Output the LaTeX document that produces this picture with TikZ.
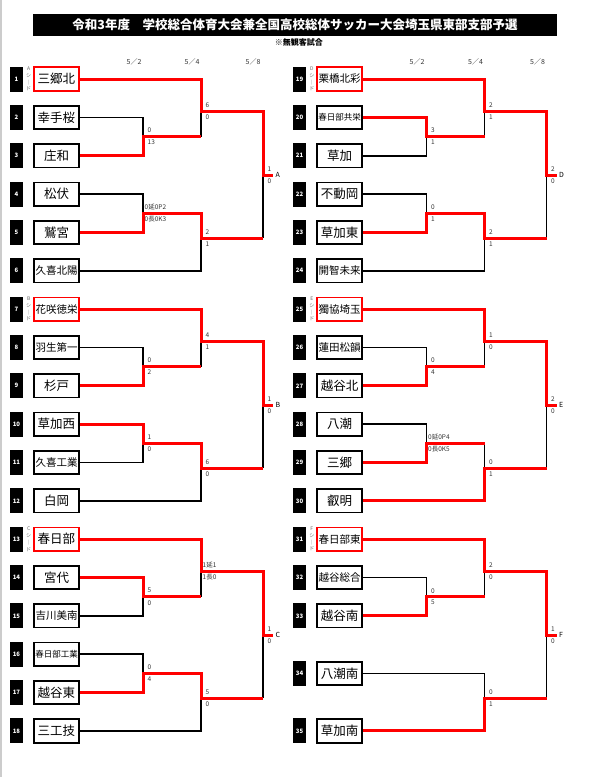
\documentclass[tikz,border=0pt]{standalone}
\usepackage{fontspec}
\setmainfont{Noto Sans CJK JP}
\usetikzlibrary{positioning}
\tikzset{
  titlebar/.style={fill=black,text=white,minimum width=524pt,minimum height=22pt,
    inner sep=0pt,font=\bfseries\fontsize{12.5}{14}\selectfont},
  subttl/.style={anchor=east,inner sep=0pt,font=\bfseries\fontsize{8}{9}\selectfont},
  date/.style={inner sep=0pt,text=black!80,font=\fontsize{7}{8}\selectfont},
  team/.style={draw=#1,line width=1.7pt,fill=white,minimum width=45.4pt,
    minimum height=23.4pt,inner sep=0pt},
  tsz/.style={font=\fontsize{#1}{#1}\selectfont},
  numbox/.style={fill=black,text=white,minimum width=12.5pt,minimum height=25pt,
    inner sep=0pt,font=\bfseries\fontsize{6}{7}\selectfont},
  seedmk/.style={align=center,inner sep=0pt,text=black!60,
    font=\fontsize{5}{6.7}\selectfont},
  win/.style={draw=red,line width=3pt},
  lose/.style={draw=black,line width=1.6pt},
  sc/.style={anchor=west,inner sep=0.5pt,text=black!80,font=\fontsize{6.5}{7}\selectfont},
  scu/.style={sc,xshift=4pt,yshift=6pt},
  scd/.style={sc,xshift=4pt,yshift=-6pt},
  scl/.style={xshift=-3pt},
  blk/.style={anchor=west,inner sep=1pt,xshift=1.5pt,font=\fontsize{7}{8}\selectfont},
}
\begin{document}
\begin{tikzpicture}[x=1pt,y=-1pt]
  \useasboundingbox (0,0) rectangle (597,777);
  \draw[black!20,line width=1.5pt] (0.75,0) -- (0.75,777);
  \node[titlebar] (title) at (295,25)
    {令和3年度　学校総合体育大会兼全国高校総体サッカー大会埼玉県東部支部予選};
  \node[subttl] (sub) at (323,42) {※無観客試合};
  \foreach \x/\dt [count=\k] in {134/5／2,192/5／4,253/5／8,417/5／2,475.5/5／4,537.5/5／8}
    \node[date] (dt\k) at (\x,62) {\dt};

  % teams
  \foreach \i/\nm/\fz/\bc in {1/三郷北/12.5/red,2/幸手桜/12.5/black,3/庄和/12.5/black,
      4/松伏/12.5/black,5/鷲宮/12.5/black,6/久喜北陽/10.5/black,7/花咲徳栄/10.5/red,
      8/羽生第一/10.5/black,9/杉戸/12.5/black,10/草加西/12.5/black,11/久喜工業/10.5/black,
      12/白岡/12.5/black,13/春日部/12.5/red,14/宮代/12.5/black,15/吉川美南/10.5/black,
      16/春日部工業/8.5/black,17/越谷東/12.5/black,18/三工技/12.5/black}{
    \node[team=\bc,tsz=\fz] (t\i) at (56.5,{79+(\i-1)*38.35}) {\nm};
    \node[numbox,left=10pt of t\i] (n\i) {\i};
  }
  \foreach \i/\r/\nm/\fz/\bc in {19/1/栗橋北彩/10.5/red,20/2/春日部共栄/8.5/black,
      21/3/草加/12.5/black,22/4/不動岡/12.5/black,23/5/草加東/12.5/black,
      24/6/開智未来/10.5/black,25/7/獨協埼玉/10.5/red,26/8/蓮田松韻/10.5/black,
      27/9/越谷北/12.5/black,28/10/八潮/12.5/black,29/11/三郷/12.5/black,
      30/12/叡明/12.5/black,31/13/春日部東/10.5/red,32/14/越谷総合/10.5/black,
      33/15/越谷南/12.5/black,34/16.5/八潮南/12.5/black,35/18/草加南/12.5/black}{
    \node[team=\bc,tsz=\fz] (t\i) at (339.5,{79+(\r-1)*38.35}) {\nm};
    \node[numbox,left=10pt of t\i] (n\i) {\i};
  }
  \foreach \i/\s in {1/A,7/B,13/C,19/D,25/E,31/F}
    \node[seedmk,left=1.5pt of t\i] (s\i) {\s\\シ\\｜\\ド};

  % match points
  \foreach \bk/\dx/\dy in {a/0/0,b/0/230.1,c/0/460.2,d/283.5/0,e/283.5/230.1,f/283.5/460.2}{
    \coordinate (\bk1) at (143+\dx,136.5+\dy);
    \coordinate (\bk2) at (201+\dx,111+\dy);
    \coordinate (\bk3) at (143+\dx,213.2+\dy);
    \coordinate (\bk4) at (201+\dx,238+\dy);
    \coordinate (\bk5) at (263+\dx,175+\dy);
    \coordinate (\bk w) at (273+\dx,175+\dy);
  }

  % block A
  \draw[lose] (t2.east) -| (a1);
  \draw[lose] (t4.east) -| (a3);
  \draw[lose] (t6.east) -| (a4);
  \draw[lose] (a1 -| a2) -- (a2);
  \draw[lose] (a4 -| a5) -- (a5);
  \draw[win] (t3.east) -| (a1) -- (a1 -| a2);
  \draw[win] (t5.east) -| (a3) -| (a4) -- (a4 -| a5);
  \draw[win] (t1.east) -| (a2) -| (a5) -- (aw);
  % block B
  \draw[lose] (t8.east) -| (b1);
  \draw[lose] (t11.east) -| (b3);
  \draw[lose] (t12.east) -| (b4);
  \draw[lose] (b1 -| b2) -- (b2);
  \draw[lose] (b4 -| b5) -- (b5);
  \draw[win] (t9.east) -| (b1) -- (b1 -| b2);
  \draw[win] (t10.east) -| (b3) -| (b4) -- (b4 -| b5);
  \draw[win] (t7.east) -| (b2) -| (b5) -- (bw);
  % block C
  \draw[lose] (t15.east) -| (c1);
  \draw[lose] (t16.east) -| (c3);
  \draw[lose] (t18.east) -| (c4);
  \draw[lose] (c1 -| c2) -- (c2);
  \draw[lose] (c4 -| c5) -- (c5);
  \draw[win] (t14.east) -| (c1) -- (c1 -| c2);
  \draw[win] (t17.east) -| (c3) -| (c4) -- (c4 -| c5);
  \draw[win] (t13.east) -| (c2) -| (c5) -- (cw);
  % block D
  \draw[lose] (t21.east) -| (d1);
  \draw[lose] (t22.east) -| (d3);
  \draw[lose] (t24.east) -| (d4);
  \draw[lose] (d1 -| d2) -- (d2);
  \draw[lose] (d4 -| d5) -- (d5);
  \draw[win] (t20.east) -| (d1) -- (d1 -| d2);
  \draw[win] (t23.east) -| (d3) -| (d4) -- (d4 -| d5);
  \draw[win] (t19.east) -| (d2) -| (d5) -- (dw);
  % block E
  \draw[lose] (t26.east) -| (e1);
  \draw[lose] (t28.east) -| (e3);
  \draw[lose] (e1 -| e2) -- (e2);
  \draw[lose] (e3 -| e4) -- (e4);
  \draw[lose] (e4 -| e5) -- (e5);
  \draw[win] (t27.east) -| (e1) -- (e1 -| e2);
  \draw[win] (t29.east) -| (e3) -- (e3 -| e4);
  \draw[win] (t30.east) -| (e4) -- (e4 -| e5);
  \draw[win] (t25.east) -| (e2) -| (e5) -- (ew);
  % block F
  \draw[lose] (t32.east) -| (f1);
  \draw[lose] (t34.east) -| (f4);
  \draw[lose] (f1 -| f2) -- (f2);
  \draw[lose] (f4 -| f5) -- (f5);
  \draw[win] (t33.east) -| (f1) -- (f1 -| f2);
  \draw[win] (t35.east) -| (f4) -- (f4 -| f5);
  \draw[win] (t31.east) -| (f2) -| (f5) -- (fw);

  % scores
  \foreach \m/\hi/\lo in {a1/0/13,a2/6/0,a4/2/1,a5/1/0,b1/0/2,b2/4/1,b3/1/0,b4/6/0,
      b5/1/0,c1/5/0,c3/0/4,c4/5/0,c5/1/0,d1/3/1,d2/2/1,d3/0/1,d4/2/1,d5/2/0,
      e1/0/4,e2/1/0,e4/0/1,e5/2/0,f1/0/5,f2/2/0,f4/0/1,f5/1/0}{
    \node[scu] (\m-u) at (\m) {\hi};
    \node[scd] (\m-d) at (\m) {\lo};
  }
  \node[scu,scl] (a3-u) at (a3) {0延0P2};
  \node[scd,scl] (a3-d) at (a3) {0長0K3};
  \node[scu,scl] (c2-u) at (c2) {1延1};
  \node[scd,scl] (c2-d) at (c2) {1長0};
  \node[scu,scl] (e3-u) at (e3) {0延0P4};
  \node[scd,scl] (e3-d) at (e3) {0長0K5};
  \foreach \bk/\lt in {a/A,b/B,c/C,d/D,e/E,f/F}
    \node[blk] (\bk-lt) at (\bk w) {\lt};
\end{tikzpicture}
\end{document}
